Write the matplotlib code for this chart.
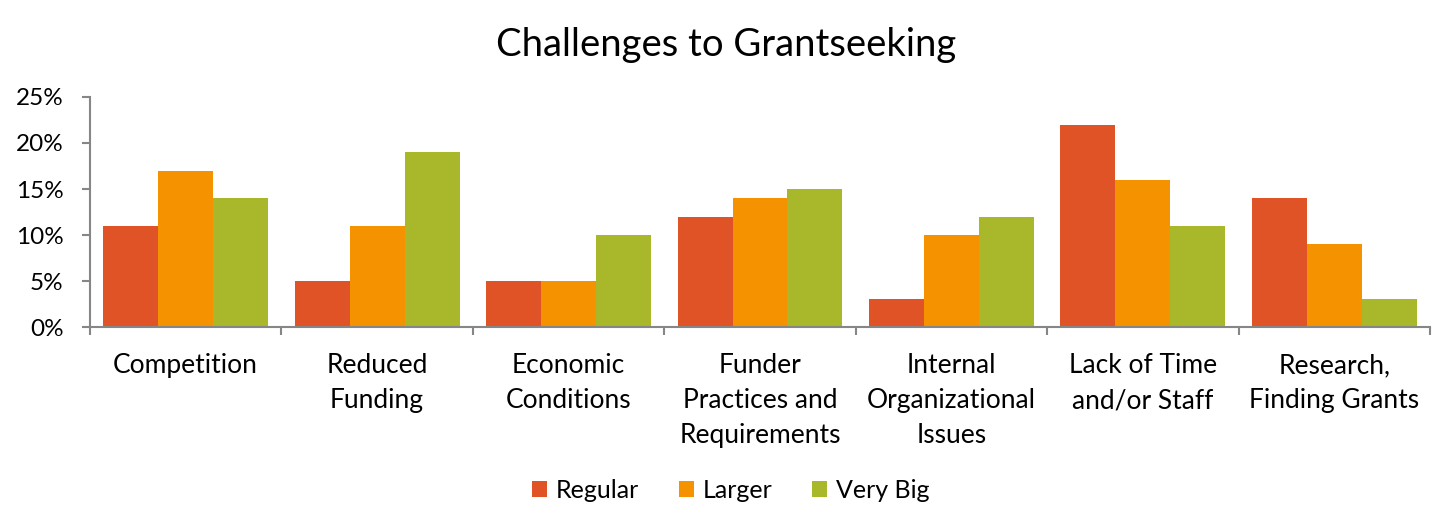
## grouped bar chart: challenges to grantseeking by org size
import numpy as np
import matplotlib.pyplot as plt

categories = ['Competition', 'Reduced\nFunding', 'Economic\nConditions',
              'Funder\nPractices and\nRequirements', 'Internal\nOrganizational\nIssues',
              'Lack of Time\nand/or Staff', 'Research,\nFinding Grants']
regular = [11, 5, 5, 12, 3, 22, 14]
larger = [17, 11, 5, 14, 10, 16, 9]
very_big = [14, 19, 10, 15, 12, 11, 3]
series_names = ['Regular', 'Larger', 'Very Big']
yticks = [0, 5, 10, 15, 20, 25]

colors = ['#E05327', '#F59200', '#A8B82A']
axis_clr = '#868686'

plt.rcParams['font.family'] = ['Lato', 'DejaVu Sans']

fig = plt.figure(figsize=(14.53, 5.26), dpi=100)
ax = fig.add_axes([0.0619, 0.3783, 0.9223, 0.4373])

x = np.arange(len(categories))
w = 0.287
for i, (vals, name) in enumerate(zip([regular, larger, very_big], series_names)):
    ax.bar(x + (i - 1) * w, vals, width=w, color=colors[i], label=name, linewidth=0)

ax.set_xlim(-0.5, len(categories) - 0.5)
ax.set_ylim(0, 25)
ax.set_yticks(yticks)
ax.set_yticklabels([f'{t}%' for t in yticks])

# category labels centred, tick marks on the boundaries
ax.set_xticks(x)
ax.set_xticklabels(categories, linespacing=1.5, va='top')
ax.tick_params(axis='x', which='major', length=0, pad=19, labelsize=19)
ax.set_xticks(np.arange(len(categories) + 1) - 0.5, minor=True)
ax.tick_params(axis='x', which='minor', length=6, width=1.5, color=axis_clr, direction='out')
ax.tick_params(axis='y', which='major', length=6, width=1.5, color=axis_clr, pad=13, labelsize=17.5)

for s in ['top', 'right']:
    ax.spines[s].set_visible(False)
for s in ['left', 'bottom']:
    ax.spines[s].set_color(axis_clr)
    ax.spines[s].set_linewidth(1.5)

fig.text(0.5, 1 - 45 / 526, 'Challenges to Grantseeking', ha='center', va='center', fontsize=27.5)

fig.legend(loc='center', bbox_to_anchor=(0.503, 1 - 490 / 526), ncol=3, frameon=False,
           fontsize=18, handlelength=0.6, handleheight=0.6, handletextpad=0.35,
           columnspacing=1.6)

fig.savefig('out.png', dpi=100)
